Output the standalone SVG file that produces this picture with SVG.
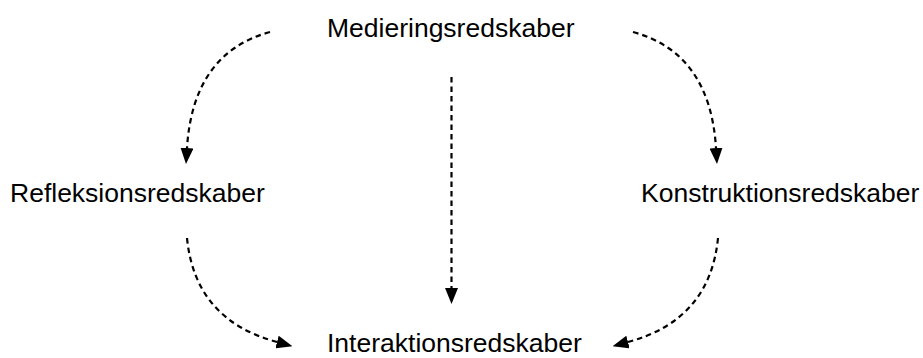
<svg xmlns="http://www.w3.org/2000/svg" width="923" height="358" viewBox="0 0 923 358">
<style>
  text { font-family: "Liberation Sans", Arial, sans-serif; font-size: 26.5px; fill: #000; }
  .c { fill: none; stroke: #000; stroke-width: 2.2; stroke-dasharray: 5.5 4; }
</style>
<defs>
  <marker id="ah" viewBox="0 0 16 13" refX="0" refY="6.5" markerWidth="16" markerHeight="13" markerUnits="userSpaceOnUse" orient="auto">
    <path d="M0,0 L16,6.5 L0,13 z" fill="#000"/>
  </marker>
</defs>
<rect width="923" height="358" fill="#fff"/>
<g id="connectors">
  <path class="c" d="M270,32 Q193,53 187,148" marker-end="url(#ah)"/>
  <path class="c" d="M633,32 Q710,53 716,148" marker-end="url(#ah)"/>
  <path class="c" d="M451.5,77 L451.5,288" marker-end="url(#ah)"/>
  <path class="c" d="M187,238 Q195,320 277,342" marker-end="url(#ah)"/>
  <path class="c" d="M718,238 Q710,320 628,342" marker-end="url(#ah)"/>
</g>
<g id="medieringsredskaber"><text x="327" y="37">Medieringsredskaber</text></g>
<g id="refleksionsredskaber"><text x="10" y="201.5">Refleksionsredskaber</text></g>
<g id="konstruktionsredskaber"><text x="641" y="201.5">Konstruktionsredskaber</text></g>
<g id="interaktionsredskaber"><text x="327" y="352">Interaktionsredskaber</text></g>
</svg>
